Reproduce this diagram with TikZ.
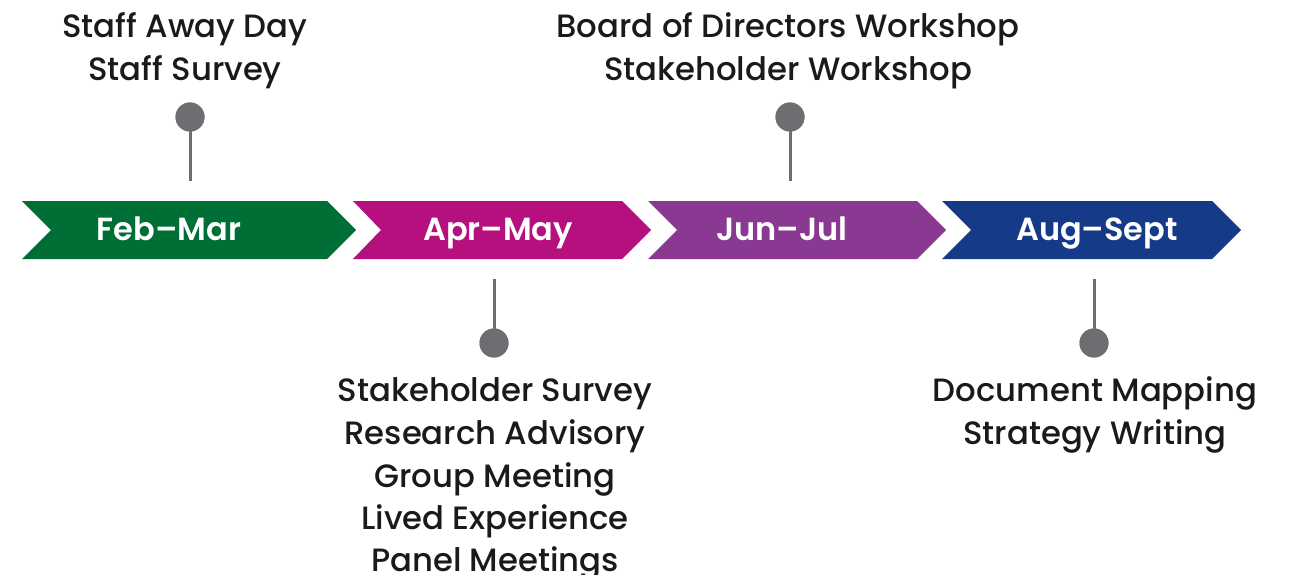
\documentclass[tikz,border=0pt]{standalone}
\usepackage{fontspec}
\setmainfont{Poppins}[UprightFont=* Medium, BoldFont=* SemiBold]
\definecolor{cgreen}{RGB}{0,111,53}
\definecolor{cmag}{RGB}{181,16,126}
\definecolor{cpurp}{RGB}{137,57,145}
\definecolor{cblue}{RGB}{20,58,136}
\definecolor{cpin}{RGB}{109,110,113}
\definecolor{ctext}{RGB}{26,26,26}
\begin{document}
\begin{tikzpicture}[x=1pt,y=-1pt,
  lbl/.style={anchor=base,inner sep=0,text=ctext,font=\fontsize{32.3}{32.3}\selectfont},
  mlbl/.style={anchor=base,inner sep=0,text=white,font=\bfseries\fontsize{32}{32}\selectfont},
  pinhead/.style={circle,fill=cpin,inner sep=0,minimum size=29pt},
  stem/.style={draw=cpin,line width=3pt}]
\useasboundingbox (0,0) rectangle (1290,575);
\fill[white] (0,0) rectangle (1290,575);
% chevrons
\fill[cgreen] (22,201) -- (327,201) -- (356,230) -- (327,259) -- (22,259) -- (51,230) -- cycle;
\fill[cmag] (353,201) -- (622,201) -- (651,230) -- (622,259) -- (353,259) -- (381,230) -- cycle;
\fill[cpurp] (648,201) -- (917,201) -- (946,230) -- (917,259) -- (648,259) -- (677,230) -- cycle;
\fill[cblue] (942,201) -- (1212,201) -- (1241,230) -- (1212,259) -- (942,259) -- (971,230) -- cycle;
\node[mlbl] (m1) at (169,240) {Feb–Mar};
\node[mlbl] (m2) at (498,240) {Apr–May};
\node[mlbl] (m3) at (782,240) {Jun–Jul};
\node[mlbl] (m4) at (1097,240) {Aug–Sept};
% pins
\coordinate (s1) at (190,181);
\coordinate (s2) at (494,279);
\coordinate (s3) at (790,181);
\coordinate (s4) at (1094,279);
\node[pinhead] (p1) at (190,117) {};
\node[pinhead] (p2) at (494,343) {};
\node[pinhead] (p3) at (790,117) {};
\node[pinhead] (p4) at (1094,343) {};
\draw[stem] (p1.center) -- (s1);
\draw[stem] (p2.center) -- (s2);
\draw[stem] (p3.center) -- (s3);
\draw[stem] (p4.center) -- (s4);
\node[pinhead] at (p1) {};
\node[pinhead] at (p2) {};
\node[pinhead] at (p3) {};
\node[pinhead] at (p4) {};
% texts
\node[lbl] (t1a) at (185,38) {Staff Away Day};
\node[lbl] (t1b) at (185,81) {Staff Survey};
\node[lbl] (t3a) at (788,38) {Board of Directors Workshop};
\node[lbl] (t3b) at (788,81) {Stakeholder Workshop};
\node[lbl] (t2a) at (495,401) {Stakeholder Survey};
\node[lbl] (t2b) at (495,444) {Research Advisory};
\node[lbl] (t2c) at (495,487) {Group Meeting};
\node[lbl] (t2d) at (495,529) {Lived Experience};
\node[lbl] (t2e) at (495,571) {Panel Meetings};
\node[lbl] (t4a) at (1095,401) {Document Mapping};
\node[lbl] (t4b) at (1095,444) {Strategy Writing};
\end{tikzpicture}
\end{document}
